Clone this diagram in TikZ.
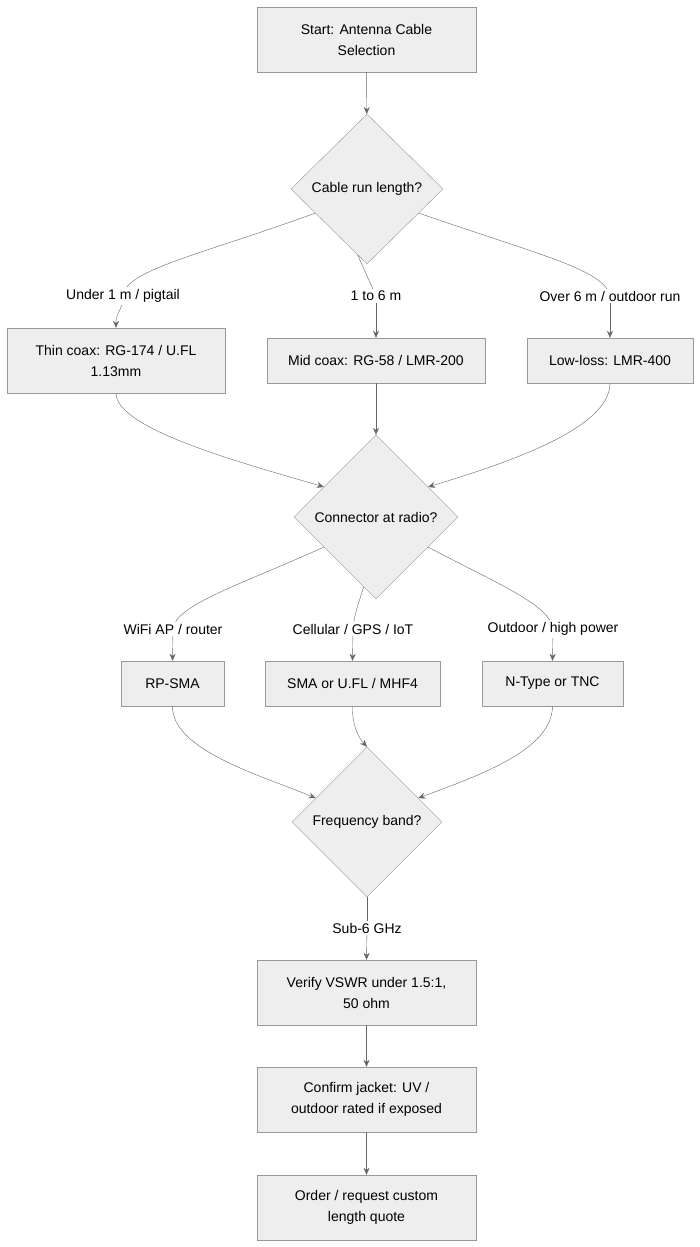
\documentclass[tikz,border=0pt]{standalone}
\usepackage{fontspec}
\setmainfont{Liberation Sans}
\usetikzlibrary{shapes.geometric,arrows.meta}
\definecolor{boxfill}{HTML}{EEEEEE}
\definecolor{boxline}{HTML}{999999}
\definecolor{edgeline}{HTML}{666666}
\tikzset{
  >={Stealth[length=7pt,width=6pt]},
  stepbox/.style={draw=boxline, fill=boxfill, align=center, inner sep=0pt,
    font=\fontsize{14}{21}\selectfont},
  choice/.style={diamond, draw=boxline, fill=boxfill, align=center, inner sep=0pt,
    font=\fontsize{14}{21}\selectfont},
  edgelabel/.style={fill=white, inner sep=2pt, font=\fontsize{14}{17}\selectfont},
  edge/.style={draw=edgeline, ->}
}
\begin{document}
\begin{tikzpicture}[x=1pt,y=-1pt]
\useasboundingbox (0,0) rectangle (700,1247);
% boxes and decisions
\node[stepbox, minimum width=219pt, minimum height=65pt] (start) at (366.5,39.5) {Start: Antenna Cable\\Selection};
\node[choice, minimum width=152pt, minimum height=150pt] (run) at (367,189) {Cable run length?};
\node[stepbox, minimum width=218pt, minimum height=65pt] (thin) at (116,360.5) {Thin coax: RG-174 / U.FL\\1.13mm};
\node[stepbox, minimum width=218pt, minimum height=45pt] (mid) at (376,360.5) {Mid coax: RG-58 / LMR-200};
\node[stepbox, minimum width=166pt, minimum height=45pt] (low) at (610,360.5) {Low-loss: LMR-400};
\node[choice, minimum width=164pt, minimum height=164pt] (conn) at (376,517) {Connector at radio?};
\node[stepbox, minimum width=103pt, minimum height=45pt] (rpsma) at (172.5,683.5) {RP-SMA};
\node[stepbox, minimum width=175pt, minimum height=45pt] (sma) at (352.5,683.5) {SMA or U.FL / MHF4};
\node[stepbox, minimum width=141pt, minimum height=45pt] (ntype) at (552.5,683.5) {N-Type or TNC};
\node[choice, minimum width=150pt, minimum height=150pt] (band) at (367,822) {Frequency band?};
\node[stepbox, minimum width=219pt, minimum height=65pt] (vswr) at (366.5,992.5) {Verify VSWR under 1.5:1,\\50 ohm};
\node[stepbox, minimum width=219pt, minimum height=65pt] (jacket) at (366.5,1099.5) {Confirm jacket: UV /\\outdoor rated if exposed};
\node[stepbox, minimum width=219pt, minimum height=65pt] (order) at (366.5,1207.5) {Order / request custom\\length quote};
% connectors
\draw[edge] (start) -- (run);
\draw[draw=edgeline] (run.205) .. controls (200,255) and (125,270) .. (123,296) coordinate (l1);
\draw[edge] (l1) .. controls (123,310) and (116,312) .. (thin.north);
\node[edgelabel] (t1) at (l1) {Under 1 m / pigtail};
\draw[draw=edgeline] (run.262) -- (376,296) coordinate (l2);
\draw[edge] (l2) -- (mid.north);
\node[edgelabel] (t2) at (l2) {1 to 6 m};
\draw[draw=edgeline] (run.335) .. controls (540,255) and (605,270) .. (610,296) coordinate (l3);
\draw[edge] (l3) -- (low.north);
\node[edgelabel] (t3) at (l3) {Over 6 m / outdoor run};
\draw[edge] (thin.south) .. controls (116,430) and (250,465) .. (conn.150);
\draw[edge] (mid) -- (conn);
\draw[edge] (low.south) .. controls (610,430) and (500,465) .. (conn.30);
\draw[draw=edgeline] (conn.210) .. controls (240,585) and (175,605) .. (173,629) coordinate (l4);
\draw[edge] (l4) -- (rpsma.north);
\node[edgelabel] (t4) at (l4) {WiFi AP / router};
\draw[draw=edgeline] (conn.260) .. controls (358,605) and (354,615) .. (353,629) coordinate (l5);
\draw[edge] (l5) -- (sma.north);
\node[edgelabel] (t5) at (l5) {Cellular / GPS / IoT};
\draw[draw=edgeline] (conn.330) .. controls (500,585) and (550,605) .. (553,629) coordinate (l6);
\draw[edge] (l6) -- (ntype.north);
\node[edgelabel] (t6) at (l6) {Outdoor / high power};
\draw[edge] (rpsma.south) .. controls (172,750) and (260,775) .. (band.155);
\draw[edge] (sma.south) .. controls (352,720) and (356,735) .. (band.north);
\draw[edge] (ntype.south) .. controls (552,750) and (480,775) .. (band.25);
\draw[draw=edgeline] (band.south) -- (367,928) coordinate (l7);
\draw[edge] (l7) -- (vswr.north);
\node[edgelabel] (t7) at (l7) {Sub-6 GHz};
\draw[edge] (vswr) -- (jacket);
\draw[edge] (jacket) -- (order);
\end{tikzpicture}
\end{document}
